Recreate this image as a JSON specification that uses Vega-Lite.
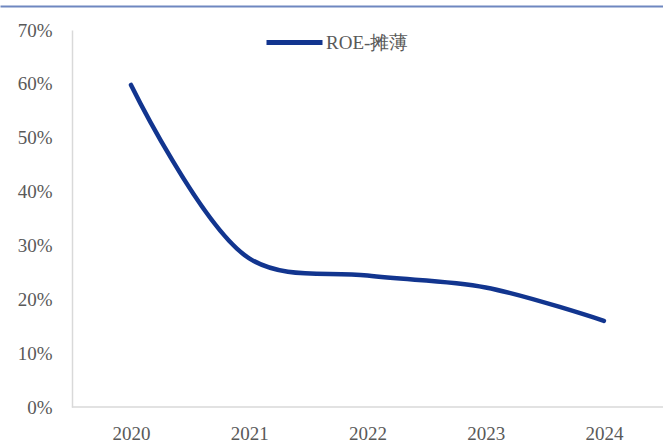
{
  "$schema": "https://vega.github.io/schema/vega-lite/v6.json",
  "width": 663,
  "height": 377,
  "autosize": {"type": "none"},
  "padding": {"left": 0, "top": 30, "right": 0, "bottom": 36},
  "background": "white",
  "config": {
    "view": {"stroke": null},
    "font": "Liberation Serif",
    "axis": {"grid": false, "labelFont": "Liberation Serif", "labelFontSize": 19, "labelColor": "#595959"}
  },
  "data": {"values": [
    {"year": 2020, "series": "ROE-摊薄", "roe": 0.598},
    {"year": 2021, "series": "ROE-摊薄", "roe": 0.276},
    {"year": 2022, "series": "ROE-摊薄", "roe": 0.244},
    {"year": 2023, "series": "ROE-摊薄", "roe": 0.222},
    {"year": 2024, "series": "ROE-摊薄", "roe": 0.160}
  ]},
  "layer": [
    {
      "mark": {"type": "line", "interpolate": "catmull-rom", "strokeWidth": 4.5, "strokeCap": "round"},
      "encoding": {
        "x": {
          "field": "year", "type": "quantitative",
          "scale": {"domain": [2018.892, 2024.5], "nice": false, "zero": false},
          "axis": {"orient": "bottom", "values": [2020, 2021, 2022, 2023, 2024], "format": "d", "domain": false, "ticks": false, "labelPadding": 17, "labelFont": "Liberation Serif", "title": null}
        },
        "y": {
          "field": "roe", "type": "quantitative",
          "scale": {"domain": [0, 0.7], "nice": false},
          "axis": {"orient": "left", "offset": -72, "values": [0, 0.1, 0.2, 0.3, 0.4, 0.5, 0.6, 0.7], "format": ".0%", "domainColor": "#D9D9D9", "domainWidth": 1.5, "ticks": false, "labelPadding": 20, "labelFont": "Liberation Serif", "title": null}
        },
        "color": {
          "field": "series", "type": "nominal",
          "scale": {"range": ["#12358F"]},
          "legend": {
            "title": null, "orient": "none", "legendX": 264, "legendY": -18,
            "symbolType": "stroke", "symbolSize": 3136, "symbolStrokeWidth": 5,
            "labelFont": "Liberation Serif", "labelFontSize": 19, "labelColor": "#595959", "labelOffset": 1, "padding": 0
          }
        }
      }
    },
    {
      "mark": {"type": "rule", "color": "#D9D9D9", "strokeWidth": 1.5},
      "data": {"values": [{"a": 2019.5, "b": 2024.5, "y": 0}]},
      "encoding": {
        "x": {"field": "a", "type": "quantitative", "scale": {"domain": [2018.892, 2024.5], "nice": false, "zero": false}, "axis": null},
        "x2": {"field": "b"},
        "y": {"field": "y", "type": "quantitative"}
      }
    },
    {
      "mark": {"type": "line", "opacity": 0},
      "encoding": {
        "x": {"field": "year", "type": "quantitative", "scale": {"domain": [2018.892, 2024.5], "nice": false, "zero": false},
          "axis": {"orient": "top", "offset": 24, "labels": false, "ticks": false, "domainColor": "#6F87C0", "domainWidth": 2, "title": null}},
        "y": {"field": "roe", "type": "quantitative"}
      }
    }
  ],
  "resolve": {"axis": {"x": "independent"}}
}
